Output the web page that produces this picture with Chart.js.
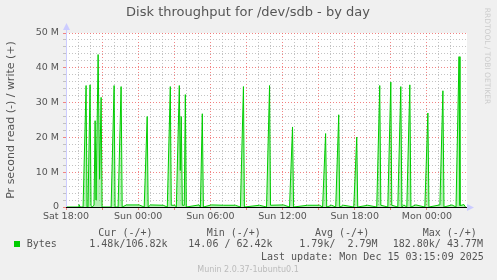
<!DOCTYPE html>
<html>
<head>
<meta charset="utf-8">
<script src="https://cdn.jsdelivr.net/npm/chart.js@4/dist/chart.umd.min.js"></script>
<style>
  body { margin: 0; background: #f0f0f0; }
  canvas { display: block; }
</style>
</head>
<body>
<canvas id="diskChart" width="497" height="280"></canvas>
<script>
// hours since Sat 18:00, write bytes per second in millions
const pointHours = [
    0, 1.0, 1.08, 1.17, 1.42, 1.67, 1.75, 1.83, 2.0, 2.08, 2.17, 2.33, 2.42, 2.5, 2.67, 2.79, 2.92, 3.0,
    3.75, 4.0, 4.08, 4.33, 4.58, 4.67, 5.03, 6.08, 6.5, 6.75, 6.83, 7.03, 8.08, 8.42, 8.67, 8.75,
    9.05, 9.17, 9.42, 9.5, 9.58, 9.67, 9.83, 9.92, 10.0, 11.06, 11.17, 11.33, 11.42, 12.08, 13.08,
    14.08, 14.5, 14.75, 14.83, 16.08, 16.67, 16.92, 17.0, 18.08, 18.58, 18.83, 18.92, 20.08, 21.08,
    21.33, 21.58, 21.67, 22.08, 22.42, 22.67, 22.75, 23.08, 23.92, 24.17, 24.25, 25.08, 25.83, 26.08,
    26.17, 26.75, 27.0, 27.08, 27.58, 27.83, 27.92, 28.08, 28.33, 28.58, 28.67, 29.08, 29.83, 30.08,
    30.17, 31.08, 31.33, 31.42, 32.08, 32.42, 32.67, 32.75, 33.08, 33.2
];
const bytesWrite = [
    0, 0, 0.7, 0, 0, 34.9, 0, 0, 35.1, 0.5, 0, 0.5, 24.8, 2.0, 43.8, 8.0, 31.5, 0,
    0, 34.9, 0, 0, 34.6, 0, 0.6, 0.6, 0, 26.0, 0, 0.6, 0.5, 0, 34.6, 0.5,
    0.5, 0, 34.9, 10.5, 26.0, 0.5, 0.5, 32.3, 0, 0.6, 0, 26.8, 0, 0.6, 0.5,
    0.5, 0, 34.6, 0, 0.5, 0, 34.9, 0.5, 0.6, 0, 23.0, 0, 0.5, 0.5,
    0, 21.1, 0, 0.5, 0, 26.5, 0, 0.5, 0, 20.1, 0, 0.5, 0, 34.9,
    0.5, 0, 35.9, 0.5, 0, 34.6, 0, 0.6, 0, 35.1, 0, 0.6, 0, 27.0,
    0, 0.6, 33.4, 0, 0.6, 0, 43.2, 0.4, 0.7, 0
];
const tickHours = [0, 6, 12, 18, 24, 30];
const tickLabels = ['Sat 18:00', 'Sun 00:00', 'Sun 06:00', 'Sun 12:00', 'Sun 18:00', 'Mon 00:00'];
const legendHeaders = ['Cur (-/+)', 'Min (-/+)', 'Avg (-/+)', 'Max (-/+)'];
const legendValues = ['1.48k/106.82k', '14.06 / 62.42k', '1.79k/  2.79M', '182.80k/ 43.77M'];

const points = pointHours.map((h, i) => ({ x: h, y: bytesWrite[i] }));

const TEXT = '#555555';
const MINOR = 'rgba(185,185,185,0.85)';
const MAJOR = 'rgba(240,110,110,0.85)';

// fond gris, zone blanche, fleches, textes munin
const munin = {
    id: 'munin',
    beforeDraw(chart) {
        const ctx = chart.ctx;
        const a = chart.chartArea;
        ctx.save();
        ctx.fillStyle = '#f0f0f0';
        ctx.fillRect(0, 0, chart.width, chart.height);
        ctx.fillStyle = '#ffffff';
        ctx.fillRect(a.left, a.top, a.right - a.left, a.bottom - a.top);
        ctx.restore();
    },
    afterDraw(chart) {
        const ctx = chart.ctx;
        const a = chart.chartArea;
        const y0 = chart.scales.y.getPixelForValue(0);
        ctx.save();
        // axe vertical + fleche
        ctx.strokeStyle = '#ccccff';
        ctx.lineWidth = 1;
        ctx.beginPath();
        ctx.moveTo(a.left + 0.5, y0);
        ctx.lineTo(a.left + 0.5, a.top - 6);
        ctx.stroke();
        ctx.fillStyle = '#ccccff';
        ctx.beginPath();
        ctx.moveTo(a.left + 0.5, a.top - 10);
        ctx.lineTo(a.left - 3, a.top - 3);
        ctx.lineTo(a.left + 4, a.top - 3);
        ctx.closePath();
        ctx.fill();
        // fleche horizontale
        ctx.beginPath();
        ctx.moveTo(a.right + 7, y0 + 0.5);
        ctx.lineTo(a.right, y0 - 3);
        ctx.lineTo(a.right, y0 + 4);
        ctx.closePath();
        ctx.fill();
        // ligne zero
        ctx.strokeStyle = '#000000';
        ctx.beginPath();
        ctx.moveTo(a.left, y0 + 0.5);
        ctx.lineTo(a.right, y0 + 0.5);
        ctx.stroke();

        ctx.fillStyle = TEXT;
        ctx.textBaseline = 'middle';
        ctx.textAlign = 'center';
        ctx.font = '13px "DejaVu Sans"';
        ctx.fillText('Disk throughput for /dev/sdb - by day', 248, 13);

        ctx.save();
        ctx.translate(11, 120);
        ctx.rotate(-Math.PI / 2);
        ctx.font = '11px "DejaVu Sans"';
        ctx.fillText('Pr second read (-) / write (+)', 0, 0);
        ctx.restore();

        ctx.save();
        ctx.translate(487, 56);
        ctx.rotate(Math.PI / 2);
        ctx.fillStyle = '#cccccc';
        ctx.font = '7.5px "DejaVu Sans"';
        ctx.fillText('RRDTOOL / TOBI OETIKER', 0, 0);
        ctx.restore();

        // legende
        ctx.textAlign = 'left';
        ctx.font = '10px "DejaVu Sans Mono"';
        const headerX = [98.3, 206.7, 315, 422.7];
        const valueX = [89.3, 188.3, 299.3, 392.7];
        legendHeaders.forEach((t, i) => ctx.fillText(t, headerX[i], 233));
        legendValues.forEach((t, i) => ctx.fillText(t, valueX[i], 244.5));
        ctx.fillText('Bytes', 26.7, 244.5);
        ctx.fillText('Last update: Mon Dec 15 03:15:09 2025', 261, 257);
        ctx.fillStyle = '#00cc00';
        ctx.fillRect(14, 241, 6, 6);

        ctx.textAlign = 'center';
        ctx.fillStyle = '#bbbbbb';
        ctx.font = '8px "DejaVu Sans"';
        ctx.fillText('Munin 2.0.37-1ubuntu0.1', 248, 269.5);
        ctx.restore();
    }
};

new Chart(document.getElementById('diskChart'), {
    type: 'line',
    data: {
        datasets: [{
            label: 'Bytes',
            data: points,
            borderColor: '#00cc00',
            backgroundColor: 'rgba(0,204,0,0.3)',
            borderWidth: 1,
            fill: 'origin',
            pointRadius: 0,
            tension: 0
        }]
    },
    options: {
        responsive: false,
        animation: false,
        devicePixelRatio: 1,
        layout: { padding: { top: 33, right: 30, bottom: 53, left: 0 } },
        plugins: {
            legend: { display: false },
            title: { display: false },
            tooltip: { enabled: false }
        },
        scales: {
            x: {
                type: 'linear',
                min: 0,
                max: 400 / 12,
                afterFit(scale) { scale.height = 20; },
                border: { display: false, dash: [1, 2] },
                grid: {
                    color: c => {
                        const v = c.tick.value;
                        if (Math.abs(v - Math.round(v)) > 0.01) return 'rgba(0,0,0,0)';
                        return Math.round(v) % 3 === 0 ? MAJOR : MINOR;
                    },
                    tickColor: c => {
                        const v = Math.round(c.tick.value);
                        return v % 3 === 0 && Math.abs(c.tick.value - v) < 0.01 ? MAJOR : 'rgba(0,0,0,0)';
                    },
                    tickLength: 3
                },
                ticks: {
                    stepSize: 1,
                    autoSkip: false,
                    maxRotation: 0,
                    padding: 1,
                    color: TEXT,
                    font: { family: 'DejaVu Sans', size: 9.5 },
                    callback: v => {
                        const i = tickHours.indexOf(Math.round(v));
                        return (i >= 0 && Math.abs(v - Math.round(v)) < 0.01) ? tickLabels[i] : '';
                    }
                }
            },
            y: {
                min: 0,
                max: 50,
                afterFit(scale) { scale.width = 66; },
                border: { display: false, dash: [1, 2] },
                grid: {
                    color: c => (Math.round(c.tick.value) % 10 === 0 ? MAJOR : MINOR),
                    tickColor: c => (Math.round(c.tick.value) % 10 === 0 ? MAJOR : MINOR),
                    tickLength: 3
                },
                ticks: {
                    stepSize: 2,
                    autoSkip: false,
                    padding: 4,
                    color: TEXT,
                    font: { family: 'DejaVu Sans', size: 9.5 },
                    callback: v => {
                        if (Math.round(v) % 10 !== 0) return '';
                        return v === 0 ? '0' : v + ' M';
                    }
                }
            }
        }
    },
    plugins: [munin]
});
</script>
</body>
</html>
